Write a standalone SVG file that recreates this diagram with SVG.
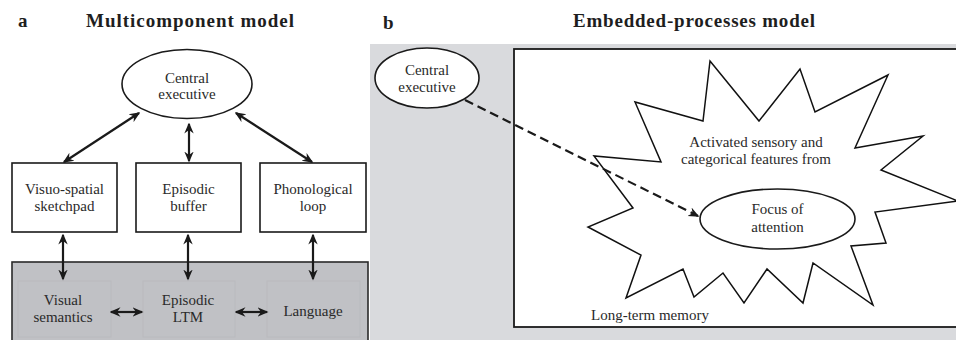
<svg xmlns="http://www.w3.org/2000/svg" width="956" height="340" viewBox="0 0 956 340">
<defs>
<style>
.t{font-family:"Liberation Serif","Times New Roman",serif;font-size:15px;fill:#2a2a2a;text-anchor:middle}
.h{font-family:"Liberation Serif","Times New Roman",serif;font-size:19px;font-weight:bold;fill:#1e1e1e}
.box{fill:#fff;stroke:#1a1a1a;stroke-width:1.6}
.ar{stroke:#1a1a1a;stroke-width:2.2;fill:none}
.faint{fill:none;stroke:#b9babe;stroke-width:1}
</style>
<marker id="ah" viewBox="0 0 11 11" refX="9.5" refY="5.5" markerWidth="11" markerHeight="11" markerUnits="userSpaceOnUse" orient="auto-start-reverse">
<path d="M0,0.8 L11,5.5 L0,10.2 L3.5,5.5 z" fill="#1a1a1a"/>
</marker>
</defs>
<rect width="956" height="340" fill="#fff"/>

<!-- Panel a -->
<text class="h" x="18" y="27">a</text>
<text class="h" x="86" y="27" textLength="208" lengthAdjust="spacing">Multicomponent model</text>

<g id="ltm-store">
<rect x="12" y="262" width="356" height="90" fill="#c0c1c5" stroke="#2a2a2a" stroke-width="1.6"/>
</g>
<g id="visual-semantics">
<rect class="faint" x="18" y="281" width="93" height="56"/>
<text class="t" x="63" y="305">Visual</text>
<text class="t" x="63" y="322">semantics</text>
</g>
<g id="episodic-ltm">
<rect class="faint" x="143" y="281" width="92" height="56"/>
<text class="t" x="188" y="305">Episodic</text>
<text class="t" x="188" y="322">LTM</text>
</g>
<g id="language">
<rect class="faint" x="267" y="281" width="93" height="56"/>
<text class="t" x="313" y="316">Language</text>
</g>

<g id="central-executive-a">
<ellipse cx="187" cy="84" rx="65" ry="34.5" class="box"/>
<text class="t" x="187" y="83">Central</text>
<text class="t" x="187" y="99">executive</text>
</g>
<g id="visuo-spatial">
<rect class="box" x="12" y="163" width="105" height="69"/>
<text class="t" x="64.5" y="194">Visuo-spatial</text>
<text class="t" x="64.5" y="211">sketchpad</text>
</g>
<g id="episodic-buffer">
<rect class="box" x="136" y="163" width="105" height="69"/>
<text class="t" x="188.5" y="194">Episodic</text>
<text class="t" x="188.5" y="211">buffer</text>
</g>
<g id="phonological-loop">
<rect class="box" x="260" y="163" width="106" height="69"/>
<text class="t" x="313" y="194">Phonological</text>
<text class="t" x="313" y="211">loop</text>
</g>

<g id="connectors">
<line class="ar" x1="139" y1="113" x2="64" y2="162" marker-start="url(#ah)" marker-end="url(#ah)"/>
<line class="ar" x1="189" y1="124" x2="189" y2="161" marker-start="url(#ah)" marker-end="url(#ah)"/>
<line class="ar" x1="236" y1="113" x2="312" y2="162" marker-start="url(#ah)" marker-end="url(#ah)"/>
<line class="ar" x1="63" y1="235" x2="63" y2="279" marker-start="url(#ah)" marker-end="url(#ah)"/>
<line class="ar" x1="188" y1="235" x2="188" y2="279" marker-start="url(#ah)" marker-end="url(#ah)"/>
<line class="ar" x1="313" y1="235" x2="313" y2="279" marker-start="url(#ah)" marker-end="url(#ah)"/>
<line class="ar" x1="111" y1="312" x2="142" y2="312" marker-start="url(#ah)" marker-end="url(#ah)"/>
<line class="ar" x1="236" y1="312" x2="267" y2="312" marker-start="url(#ah)" marker-end="url(#ah)"/>
</g>

<!-- Panel b -->
<text class="h" x="383" y="29">b</text>
<text class="h" x="573" y="27" textLength="242" lengthAdjust="spacing">Embedded-processes model</text>

<rect x="370" y="44" width="586" height="296" fill="#d9dadd"/>
<g id="long-term-memory">
<rect x="514" y="49" width="460" height="278" fill="#fff" stroke="#1a1a1a" stroke-width="1.8"/>
<text class="t" x="650" y="320">Long-term memory</text>
</g>
<g id="activated-features">
<polygon fill="#fff" stroke="#111" stroke-width="1.5" stroke-linejoin="miter" points="710,61 759,121 800,69 815,112 888,75 855,148 923,136 881,170 958,201 875,212 886,243 851,246 873,305 813,263 803,303 767,269 744,303 723,273 694,297 683,269 626,298 641,255 588,227 633,208 594,156 661,162 635,102 703,121"/>
<text class="t" x="756" y="147">Activated sensory and</text>
<text class="t" x="756" y="164">categorical features from</text>
</g>
<g id="focus-of-attention">
<ellipse cx="777.5" cy="219" rx="77.5" ry="30" class="box"/>
<text class="t" x="777.5" y="214">Focus of</text>
<text class="t" x="777.5" y="232">attention</text>
</g>
<g id="central-executive-b">
<ellipse cx="427" cy="78" rx="52" ry="30" class="box"/>
<text class="t" x="427" y="75">Central</text>
<text class="t" x="427" y="92">executive</text>
</g>
<g id="connectors-b">
<line class="ar" x1="465" y1="100" x2="698" y2="216" stroke-dasharray="9,5" stroke-width="2.4" marker-end="url(#ah)"/>
</g>
</svg>
